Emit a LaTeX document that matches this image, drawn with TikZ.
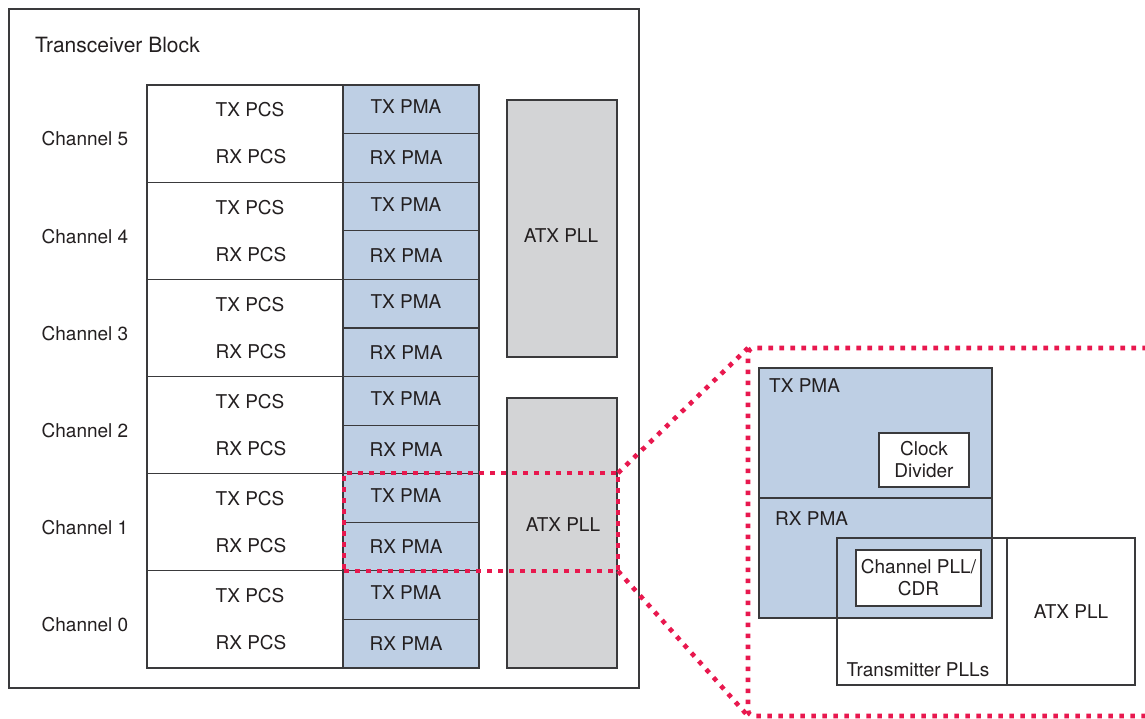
\documentclass[tikz,border=0pt]{standalone}
\usepackage{fontspec}
\setmainfont{TeX Gyre Heros}
\usepackage{tikz}
\usetikzlibrary{positioning}
\definecolor{ink}{RGB}{35,31,32}
\definecolor{frame}{RGB}{58,58,60}
\definecolor{pmablue}{RGB}{190,207,228}
\definecolor{pllgray}{RGB}{211,212,214}
\definecolor{zoomred}{RGB}{232,24,78}
\newcommand{\lblfont}{\fontsize{19}{22}\selectfont}
\tikzset{
  blk/.style={draw=frame, rectangle, inner sep=0pt, outer sep=0pt, line width=1.1pt,
    font=\lblfont, text=ink, align=center},
  pcs/.style={blk, fill=white},
  pma/.style={blk, fill=pmablue},
  pll/.style={blk, fill=pllgray},
  lbl/.style={font=\lblfont, text=ink, inner sep=0pt},
  zoom/.style={draw=zoomred, line width=4.6pt, dash pattern=on 4.6pt off 6.4pt},
}

\begin{document}
\begin{tikzpicture}[x=1pt, y=-1pt]
  \useasboundingbox (0,0) rectangle (1145,719);
  \node[pcs, minimum width=630pt, minimum height=679pt] (block) at (324,348.5) {};
  \node[lbl, anchor=west, font=\fontsize{21}{24}\selectfont] (title) at (35,45) {Transceiver Block};
  % six channels, channel 5 on top
  \foreach \c in {0,...,5} {
    \pgfmathsetmacro\ytop{85+(5-\c)*97.17}
    \node[pcs, minimum width=196pt, minimum height=97.17pt] (pcs\c) at (245,\ytop+48.58) {};
    \node[lbl] (ch\c) at (85,\ytop+54) {Channel \c};
    \node[lbl] (txpcs\c) at (250,\ytop+25) {TX PCS};
    \node[lbl] (rxpcs\c) at (251,\ytop+72) {RX PCS};
    \node[pma, minimum width=136pt, minimum height=48.58pt] (txpma\c) at (411,\ytop+24.3) {};
    \node[pma, minimum width=136pt, minimum height=48.58pt] (rxpma\c) at (411,\ytop+72.9) {};
    \node[lbl] (txpmal\c) at (406,\ytop+22) {TX PMA};
    \node[lbl] (rxpmal\c) at (406,\ytop+73) {RX PMA};
  }
  \node[pll, minimum width=110pt, minimum height=257pt] (atx1) at (562,228.5) {};
  \node[lbl] (atx1l) at (561,236) {ATX PLL};
  \node[pll, minimum width=110pt, minimum height=270pt] (atx0) at (562,533) {};
  \node[lbl] (atx0l) at (563,525) {ATX PLL};
  % zoom on channel 1
  \node[zoom, minimum width=274pt, minimum height=98pt, inner sep=0pt, outer sep=0pt] (zsmall) at (481,522) {};
  \node[zoom, rounded corners=6pt, minimum width=427pt, minimum height=368pt, inner sep=0pt, outer sep=0pt] (zbig) at (961.5,532) {};
  \draw[zoom] (zsmall.north east) -- (zbig.north west);
  \draw[zoom] (zsmall.south east) -- (zbig.south west);
  % detail
  \node[pma, minimum width=233pt, minimum height=130pt] (dtx) at (875.5,433) {};
  \node[pma, minimum width=233pt, minimum height=120pt] (drx) at (875.5,558) {};
  \node[lbl, anchor=west] (dtxl) at (769,386) {TX PMA};
  \node[lbl, anchor=west] (drxl) at (775,519) {RX PMA};
  \node[pcs, minimum width=90pt, minimum height=54pt] (clkdiv) at (924,460) {Clock\\Divider};
  \node[blk, minimum width=170pt, minimum height=147pt] (txpll) at (922,611.5) {};
  \node[pcs, minimum width=128pt, minimum height=147pt] (datx) at (1071,611.5) {ATX PLL};
  \node[pcs, minimum width=125pt, minimum height=56pt] (cdr) at (918.5,578) {Channel PLL/\\CDR};
  \node[lbl] (txplll) at (918,670) {Transmitter PLLs};
\end{tikzpicture}
\end{document}
